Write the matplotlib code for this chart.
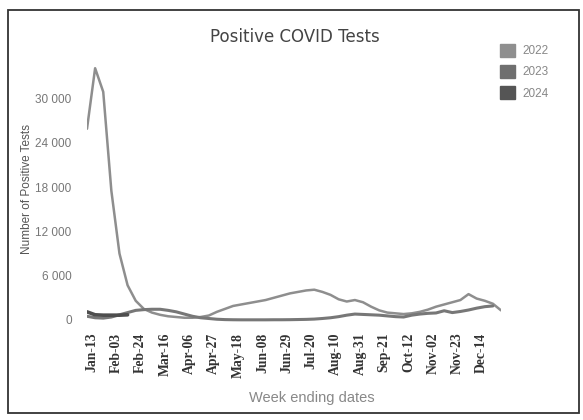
import pandas as pd
import numpy as np
import matplotlib
matplotlib.use("Agg")
import matplotlib.pyplot as plt
import matplotlib.transforms as mtrans
from matplotlib.patches import Patch, Rectangle

# week ending dates (categories)
weeks = pd.date_range("2024-01-13", periods=52, freq="7D").strftime("%b-%d").tolist()

# positive tests per week
y2022 = [25900, 34100, 30900, 17500, 9000, 4700, 2600, 1500, 1000, 700,
         500, 400, 300, 300, 400, 600, 1100, 1500, 1900, 2100,
         2300, 2500, 2700, 3000, 3300, 3600, 3800, 4000, 4100, 3800,
         3400, 2800, 2500, 2700, 2400, 1800, 1300, 1000, 900, 800,
         900, 1100, 1400, 1800, 2100, 2400, 2700, 3500, 2900, 2600,
         2200, 1300]
y2023 = [500, 300, 250, 400, 700, 1000, 1300, 1400, 1450, 1450,
         1300, 1100, 800, 500, 300, 200, 100, 50, 30, 20,
         20, 20, 20, 30, 30, 40, 60, 80, 120, 200,
         300, 450, 650, 800, 750, 700, 650, 550, 450, 400,
         650, 800, 900, 950, 1250, 1000, 1150, 1350, 1600, 1800,
         1900]
y2024 = [1100, 700, 650, 650, 650, 700]

years = ["2022", "2023", "2024"]
series = [y2022, y2023, y2024]
line_colors = ["#8e8e8e", "#777777", "#4e4e4e"]
box_colors = ["#8f8f8f", "#6f6f6f", "#555555"]
widths = [1.8, 2.2, 2.6]

W, H = 583, 420
fig = plt.figure(figsize=(W / 100, H / 100), dpi=100)

# outer frame
fig.add_artist(Rectangle((8 / W, 1 - 413 / H), 571 / W, 403 / H,
                         transform=fig.transFigure, fill=False,
                         edgecolor="#333333", lw=1.3))

ax = fig.add_axes([87 / W, 1 - 324.4 / H, 414 / W, 270.2 / H])

x = np.arange(len(weeks))
for yr, vals, c, lw in zip(years, series, line_colors, widths):
    ax.plot(x[:len(vals)], vals, color=c, lw=lw, solid_capstyle="round")

ax.set_xlim(0, 51)
ax.set_ylim(-600, 36000)
for s in ax.spines.values():
    s.set_visible(False)

ax.set_yticks(np.arange(0, 30001, 6000))
ax.set_yticklabels([f"{v:,}".replace(",", " ") for v in range(0, 30001, 6000)],
                   family="Liberation Sans", fontsize=8.5, color="#777777")
# labels every third week, last one Dec-14
ax.set_xticks(x[:49:3])
ax.set_xticklabels(weeks[:49:3], rotation=90, family="Liberation Serif",
                   fontweight="bold", fontsize=9.8, color="#333333")
ax.tick_params(axis="y", length=0, pad=11)
ax.tick_params(axis="x", length=0, pad=6)
shift = mtrans.ScaledTranslation(5 / 100, 0, fig.dpi_scale_trans)
for lab in ax.get_xticklabels():
    lab.set_transform(lab.get_transform() + shift)

ax.set_ylabel("Number of Positive Tests", family="Liberation Sans",
              fontsize=8.5, color="#555555")
ax.yaxis.set_label_coords(-0.13, 0.5)

fig.text(295 / W, 1 - 37 / H, "Positive COVID Tests", ha="center", va="center",
         fontsize=12, color="#444444")
fig.text(312 / W, 1 - 398 / H, "Week ending dates", ha="center", va="center",
         family="Liberation Sans", fontsize=10.5, color="#888888")

handles = [Patch(facecolor=c, edgecolor=c) for c in box_colors]
fig.legend(handles, years, loc="upper left", bbox_to_anchor=(500 / W, 1 - 44 / H),
           frameon=False, borderpad=0, borderaxespad=0,
           handlelength=1.3, handleheight=1.3, handletextpad=0.6,
           labelspacing=0.65, prop={"family": "Liberation Sans", "size": 8.5},
           labelcolor="#888888")

fig.savefig("out.png", dpi=100)
